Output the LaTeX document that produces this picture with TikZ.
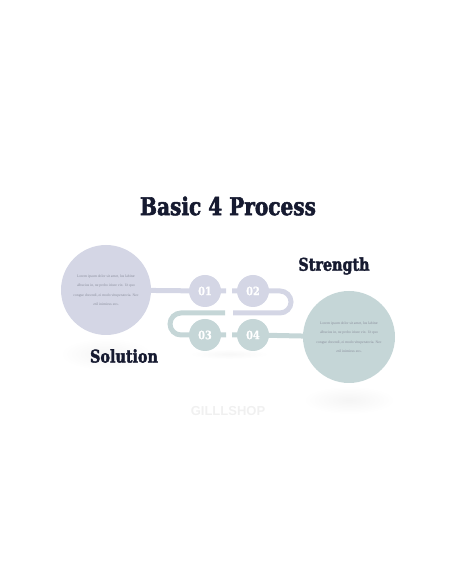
\documentclass[tikz,border=0pt]{standalone}
\usepackage{fontspec}
\setmainfont{Liberation Serif}
\newfontfamily\headfont{DejaVu Serif}[FakeStretch=0.82,FakeBold=2.2]
\newfontfamily\numfont{DejaVu Serif}[FakeStretch=0.85,FakeBold=1]
\newfontfamily\wmfont{Liberation Sans}
\usetikzlibrary{backgrounds}
\definecolor{lav}{HTML}{D4D6E5}
\definecolor{sage}{HTML}{C5D6D7}
\definecolor{navy}{HTML}{161A30}
\definecolor{smalltxt}{HTML}{8A8E9C}
\tikzset{
  bigcirc/.style={circle,minimum size=#1,inner sep=0pt},
  numcirc/.style={circle,minimum size=32pt,inner sep=0pt,text=white,font=\numfont\bfseries\fontsize{11.5}{11.5}\selectfont},
  lavline/.style={draw=lav,line width=5pt},
  sageline/.style={draw=sage,line width=5pt},
  heading/.style={text=navy,font=\headfont\bfseries\fontsize{17.5}{17.5}\selectfont},
  body/.style={text=smalltxt,align=center,font=\fontsize{3.7}{9.5}\selectfont},
  refl/.style={inner color=black!4,outer color=white,draw=none}
}
\begin{document}
\begin{tikzpicture}[x=1pt,y=1pt]
\useasboundingbox (0,0) rectangle (456,586);
% faint reflections
\shade[refl] (106,232) ellipse[x radius=46,y radius=16];
\shade[refl] (349,186) ellipse[x radius=46,y radius=14];
\shade[refl,inner color=black!3] (229,232) ellipse[x radius=40,y radius=5];
% title
\node[heading,font=\headfont\bfseries\fontsize{24.5}{24.5}\selectfont] (title) at (228,380) {Basic 4 Process};
% big circles
\node[bigcirc=90pt,fill=lav] (L) at (106,296) {};
\node[bigcirc=92pt,fill=sage] (R) at (349,249) {};
\node[body] (Ltxt) at (L.center) {Lorem ipsum dolor sit amet, lus labitur\\albucius in, ne probo iriure vix. Ut quo\\congue docendi, ei modo vituperatoria. Nec\\zril inimicus eos.};
\node[body] (Rtxt) at (R.center) {Lorem ipsum dolor sit amet, lus labitur\\albucius in, ne probo iriure vix. Ut quo\\congue docendi, ei modo vituperatoria. Nec\\zril inimicus eos.};
% number circles
\node[numcirc,fill=lav] (n1) at (205,295) {01};
\node[numcirc,fill=lav] (n2) at (253,295) {02};
\node[numcirc,fill=sage] (n3) at (205,251) {03};
\node[numcirc,fill=sage] (n4) at (253,251) {04};
\coordinate (g1) at (226,295);
\coordinate (g2) at (232,295);
\coordinate (t2) at (280,295);
\coordinate (e2) at (233,273);
\coordinate (s3) at (225,273);
\coordinate (t3) at (181,273);
\coordinate (g3) at (226,251);
\coordinate (g4) at (232,251);
\begin{scope}[on background layer]
\draw[lavline] (L.center) -- (n1.center) -- (g1);
\draw[lavline] (g2) -- (n2.center) -- (t2) arc[start angle=90,end angle=-90,radius=11] -- (e2);
\draw[sageline] (s3) -- (t3) arc[start angle=90,end angle=270,radius=11] -- (n3.center) -- (g3);
\draw[sageline] (g4) -- (n4.center) -- (R.center);
\end{scope}
% headings
\node[heading] (strength) at (334,320) {Strength};
\node[heading] (solution) at (124,230) {Solution};
% watermark
\node[text=black!6,font=\wmfont\bfseries\fontsize{13}{13}\selectfont] (wm) at (228,175) {GILLLSHOP};
\end{tikzpicture}
\end{document}
